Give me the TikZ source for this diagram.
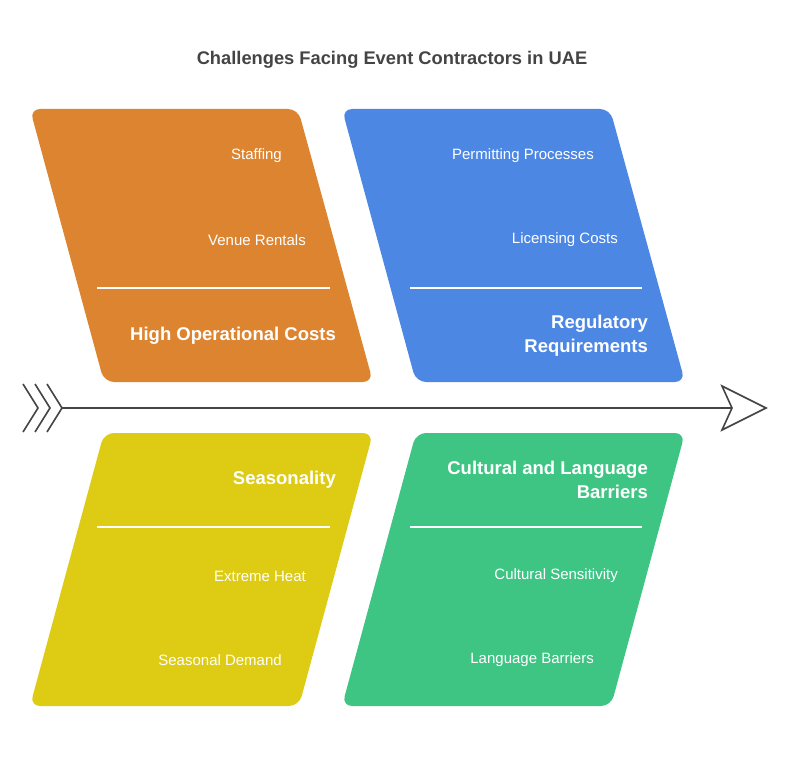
\documentclass[tikz,border=0pt]{standalone}
\usepackage{fontspec}
\setmainfont{Liberation Sans}
\definecolor{costorange}{HTML}{DD8431}
\definecolor{ruleblue}{HTML}{4D87E4}
\definecolor{seasonyellow}{HTML}{DDCB14}
\definecolor{culturegreen}{HTML}{3EC584}
\definecolor{spinegray}{HTML}{444444}
\begin{document}
\begin{tikzpicture}[x=1pt, y=-1pt,
        bone/.style={rounded corners=10pt},
        divider/.style={draw=white, line width=1.2pt},
        cause/.style={anchor=east, inner sep=0pt, text=white, font=\fontsize{15}{18}\selectfont},
        category/.style={anchor=east, inner sep=0pt, align=right, text=white, font=\bfseries\fontsize{18.5}{24}\selectfont},
        spine/.style={draw=spinegray, line width=1.6pt}
    ]
        \useasboundingbox (0,0) rectangle (790,757);

        % Title
        \node[text=spinegray, font=\bfseries\fontsize{18.3}{22}\selectfont] (title) at (392,60) {Challenges Facing Event Contractors in UAE};

        % High operational costs
        \fill[costorange, bone] (30,109) -- (298,109) -- (373,382) -- (104,382) -- cycle;
        \draw[divider] (97,288) -- (330,288);
        \node[cause] (staff) at (282,156) {Staffing};
        \node[cause] (venue) at (306,240) {Venue Rentals};
        \node[category] (costs) at (336,336) {High Operational Costs};

        % Regulatory requirements
        \fill[ruleblue, bone] (342,109) -- (610,109) -- (685,382) -- (416,382) -- cycle;
        \draw[divider] (410,288) -- (642,288);
        \node[cause] (permit) at (594,156) {Permitting Processes};
        \node[cause] (licence) at (618,240) {Licensing Costs};
        \node[category] (rules) at (648,336) {Regulatory\\Requirements};

        % Seasonality
        \fill[seasonyellow, bone] (104,433) -- (373,433) -- (299,706) -- (30,706) -- cycle;
        \draw[divider] (97,527) -- (330,527);
        \node[category] (season) at (336,480) {Seasonality};
        \node[cause] (heat) at (306,576) {Extreme Heat};
        \node[cause] (demand) at (282,660) {Seasonal Demand};

        % Cultural and language barriers
        \fill[culturegreen, bone] (416,433) -- (685,433) -- (611,706) -- (342,706) -- cycle;
        \draw[divider] (410,527) -- (642,527);
        \node[category] (culture) at (648,480) {Cultural and Language\\Barriers};
        \node[cause] (sensitive) at (618,576) {Cultural Sensitivity};
        \node[cause] (language) at (594,660) {Language Barriers};

        % Spine
        \coordinate (tail) at (62,408);
        \coordinate (head) at (732,408);
        \draw[spine] (tail) -- (head);
        \draw[spine, line join=miter] (722,386) -- (766,408) -- (722,430) -- (head) -- cycle;
        \foreach \x in {0,12,24}
            \draw[spine] (23+\x,384) -- (38+\x,408) -- (23+\x,432);
    \end{tikzpicture}
\end{document}
